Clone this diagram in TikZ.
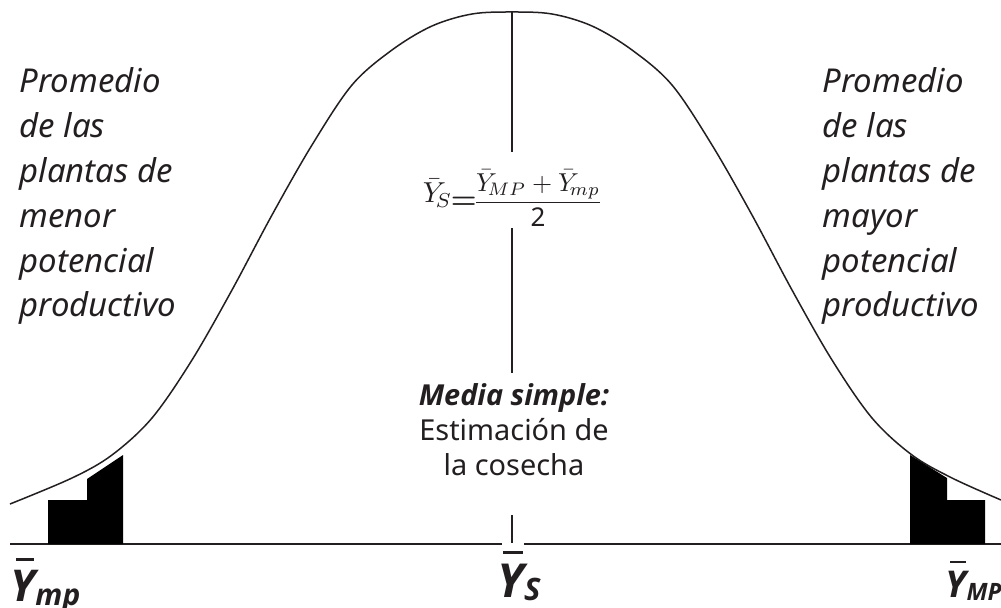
\documentclass[tikz,border=0pt]{standalone}
\usepackage{amsmath}
\usepackage{fontspec}
\setmainfont{Noto Sans}
\newfontfamily\boldfam{Open Sans}
\definecolor{ink}{HTML}{231F20}
\newcommand\Ybarre{\makebox[0pt][l]{\kern0.12em\rule[0.92em]{0.42em}{0.06em}}Y}
\begin{document}
\begin{tikzpicture}[x=1bp,y=-1bp,line width=1.5bp,draw=ink,text=ink,
  curve/.style={draw=ink,line width=1.5bp},
  axisline/.style={draw=ink,line width=1.5bp},
  block/.style={fill=black,draw=none},
  sidetext/.style={anchor=north west,align=left,inner sep=0pt,
    font=\fontsize{33}{45}\selectfont\itshape},
  midtext/.style={anchor=north,align=center,inner sep=0pt,
    font=\fontsize{29}{35}\selectfont},
  ylabel/.style={anchor=base west,inner sep=0pt}]
\useasboundingbox (0,0) rectangle (1001,608);

% bell curve
\draw[curve] plot[smooth,tension=0.55] coordinates {
 (10,504) (72,478) (112,455) (152,418) (192,360) (232,290) (272,215)
 (312,145) (352,85) (392,50) (432,26) (472,14) (512,12)
 (552,14) (592,26) (632,50) (672,85) (712,145) (752,215) (792,290)
 (832,360) (872,418) (912,455) (952,478) (1001,500)};

% axis
\coordinate (axL) at (10,544);
\coordinate (gapL) at (502,544);
\coordinate (gapR) at (524,544);
\coordinate (axR) at (1001,544);
\draw[axisline] (axL) -- (gapL);
\draw[axisline] (gapR) -- (axR);

% central vertical line
\coordinate (peak) at (512,12);
\coordinate (v1) at (512,152);
\coordinate (v2) at (512,228);
\coordinate (v3) at (512,373);
\coordinate (v4) at (512,515);
\coordinate (v5) at (512,543);
\draw[axisline] (peak) -- (v1);
\draw[axisline] (v2) -- (v3);
\draw[axisline] (v4) -- (v5);

% tail blocks
\fill[block] (48,544) -- (48,500) -- (87,500) -- (87,479) -- (123,455) -- (123,544) -- cycle;
\fill[block] (910,544) -- (910,455) -- (947,478) -- (947,500) -- (985,500) -- (985,544) -- cycle;

% side texts
\node[sidetext] (lefttext) at (19,67) {Promedio\\de las\\plantas de\\menor\\potencial\\productivo};
\node[sidetext] (righttext) at (822,67) {Promedio\\de las\\plantas de\\mayor\\potencial\\productivo};

% formula
\begin{scope}[shift={(479,203)}]
\node[anchor=base east,inner sep=0pt,scale=2.9] (ys) at (0,0)
  {$\bar{Y}_{\!S}$\kern-0.5pt\raisebox{-1.8pt}{$\boldsymbol{=}$}};
\end{scope}
\begin{scope}[shift={(538,209)}]
\node[anchor=base,inner sep=0pt,scale=2.6] (frac) at (0,0)
  {$\dfrac{\bar{Y}_{\!MP}+\bar{Y}_{\!mp}}{\mathbf{2}}$};
\end{scope}

% central text
\node[midtext] (media) at (514,383) {{\boldfam\bfseries\itshape Media simple:}\\Estimación de\\la cosecha};

% bottom labels
\node[ylabel,font=\boldfam\fontsize{44}{44}\selectfont\bfseries\itshape] (ymp) at (10,601)
  {\Ybarre\raisebox{-0.1em}{\fontsize{30}{30}\selectfont mp}};
\node[ylabel,font=\boldfam\fontsize{47}{47}\selectfont\bfseries\itshape] (ysb) at (497,597)
  {\Ybarre\raisebox{-0.07em}{\fontsize{31}{31}\selectfont S}};
\node[ylabel,font=\boldfam\fontsize{37}{37}\selectfont\bfseries\itshape] (yMP) at (945,597)
  {\Ybarre\raisebox{-0.1em}{\fontsize{24}{24}\selectfont MP}};
\end{tikzpicture}
\end{document}
